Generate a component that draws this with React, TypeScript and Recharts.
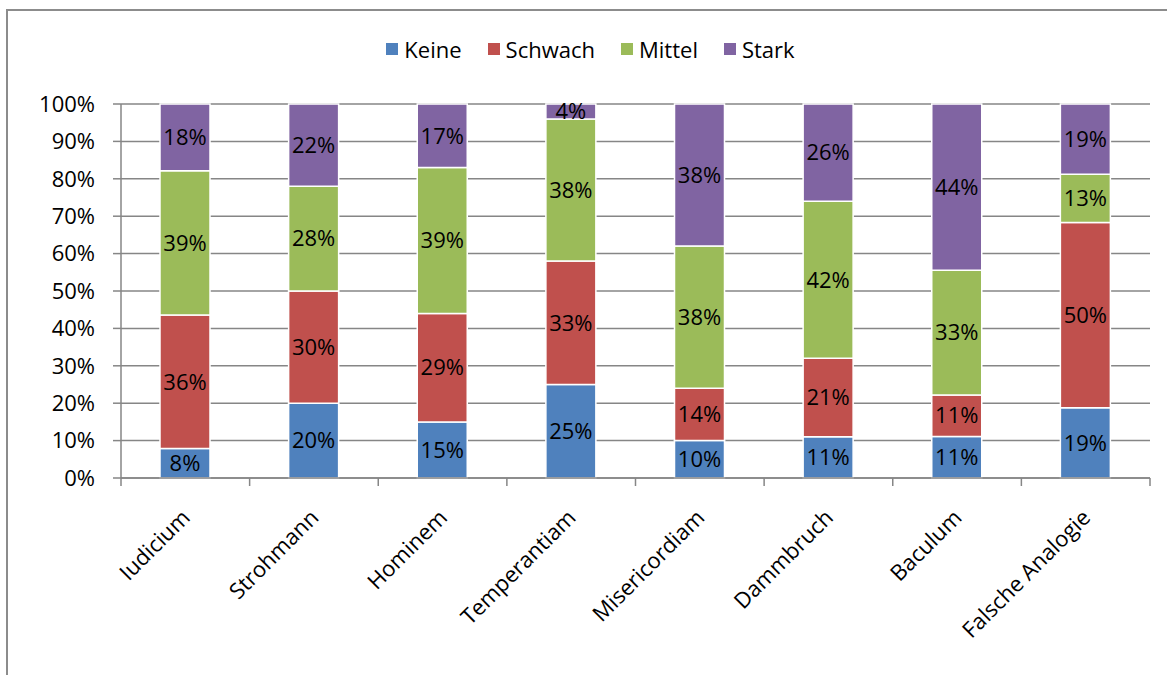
import React from "react";
import {
  BarChart,
  Bar,
  XAxis,
  YAxis,
  CartesianGrid,
  Legend,
  LabelList,
} from "recharts";

// Categories and values (percent)
const categories = [
  "Iudicium",
  "Strohmann",
  "Hominem",
  "Temperantiam",
  "Misericordiam",
  "Dammbruch",
  "Baculum",
  "Falsche Analogie",
];
const keine = [8, 20, 15, 25, 10, 11, 11, 19];
const schwach = [36, 30, 29, 33, 14, 21, 11, 50];
const mittel = [39, 28, 39, 38, 38, 42, 33, 13];
const stark = [18, 22, 17, 4, 38, 26, 44, 19];

const yTicks = [0, 0.1, 0.2, 0.3, 0.4, 0.5, 0.6, 0.7, 0.8, 0.9, 1];

const series = [
  { key: "keine", name: "Keine", color: "#4F81BD" },
  { key: "schwach", name: "Schwach", color: "#C0504D" },
  { key: "mittel", name: "Mittel", color: "#9BBB59" },
  { key: "stark", name: "Stark", color: "#8064A2" },
];

// pos = centre of each category on the helper number axis
const data = categories.map((name, i) => ({
  name,
  pos: i + 0.5,
  keine: keine[i],
  schwach: schwach[i],
  mittel: mittel[i],
  stark: stark[i],
}));

// ticks on the helper number axis: integers = category borders, halves = labels
const xTicks: number[] = [];
for (let i = 0; i <= categories.length * 2; i++) xTicks.push(i / 2);

const FONT = "'Open Sans', 'Noto Sans', sans-serif";
const AXIS_GRAY = "#868686";

const CategoryTick = (props: any) => {
  const { x, y, payload } = props;
  const v = payload.value as number;
  if (Number.isInteger(v)) {
    return <line x1={x} x2={x} y1={y - 8} y2={y} stroke={AXIS_GRAY} strokeWidth={1.5} />;
  }
  const label = categories[Math.floor(v)];
  return (
    <g transform={`translate(${x + 6},${y + 33}) rotate(-45)`}>
      <text x={0} y={0} textAnchor="end" fill="#000" fontSize={22} fontFamily={FONT}>
        {label}
      </text>
    </g>
  );
};

const LegendContent = () => (
  <div
    style={{
      display: "flex",
      justifyContent: "center",
      alignItems: "center",
      paddingLeft: 14,
      fontFamily: FONT,
      fontSize: 22,
      lineHeight: "30px",
      color: "#000",
    }}
  >
    {series.map((s, i) => (
      <div
        key={s.key}
        style={{ display: "flex", alignItems: "center", marginRight: i < series.length - 1 ? 26 : 0 }}
      >
        <span style={{ width: 12, height: 12, background: s.color, marginRight: 6, display: "inline-block" }} />
        <span>{s.name}</span>
      </div>
    ))}
  </div>
);

export default function App() {
  return (
    <div style={{ position: "absolute", left: 0, top: 0, width: 1167, height: 675, overflow: "hidden", background: "#fff" }}>
      <div
        style={{
          position: "absolute",
          left: 6,
          top: 9,
          width: 1300,
          height: 800,
          borderLeft: "2px solid #8c8c8c",
          borderTop: "2px solid #8c8c8c",
        }}
      />
      <div style={{ position: "absolute", left: 0, top: 0 }}>
        <BarChart
          width={1167}
          height={675}
          data={data}
          stackOffset="expand"
          margin={{ top: 104, right: 17, left: 0, bottom: 0 }}
          style={{ fontFamily: FONT }}
        >
          <CartesianGrid xAxisId="cat" vertical={false} stroke={AXIS_GRAY} strokeWidth={1.5} />
          <XAxis xAxisId="cat" dataKey="name" hide height={0} />
          <XAxis
            xAxisId="num"
            dataKey="pos"
            type="number"
            domain={[0, categories.length]}
            allowDataOverflow
            ticks={xTicks}
            interval={0}
            height={197}
            tickLine={false}
            tickSize={8}
            tickMargin={0}
            axisLine={{ stroke: AXIS_GRAY, strokeWidth: 1.5 }}
            tick={<CategoryTick />}
          />
          <YAxis
            domain={[0, 1]}
            ticks={yTicks}
            interval={0}
            width={121}
            tickSize={8}
            tickMargin={18}
            tickFormatter={(v: number) => `${Math.round(v * 100)}%`}
            tick={{ fill: "#000", fontSize: 22, fontFamily: FONT }}
            axisLine={{ stroke: AXIS_GRAY, strokeWidth: 1.5 }}
            tickLine={{ stroke: AXIS_GRAY, strokeWidth: 1.5 }}
          />
          <Legend
            layout="horizontal"
            verticalAlign="middle"
            align="center"
            content={<LegendContent />}
            wrapperStyle={{ top: 34, left: 0, width: 1167 }}
          />
          {series.map((s) => (
            <Bar
              key={s.key}
              xAxisId="cat"
              dataKey={s.key}
              name={s.name}
              stackId="a"
              fill={s.color}
              stroke="#fff"
              strokeWidth={1.5}
              barSize={50}
              isAnimationActive={false}
            >
              <LabelList
                dataKey={s.key}
                position="center"
                formatter={(v: any) => `${v}%`}
                fill="#000"
                fontSize={22}
                fontFamily={FONT}
              />
            </Bar>
          ))}
        </BarChart>
      </div>
    </div>
  );
}
